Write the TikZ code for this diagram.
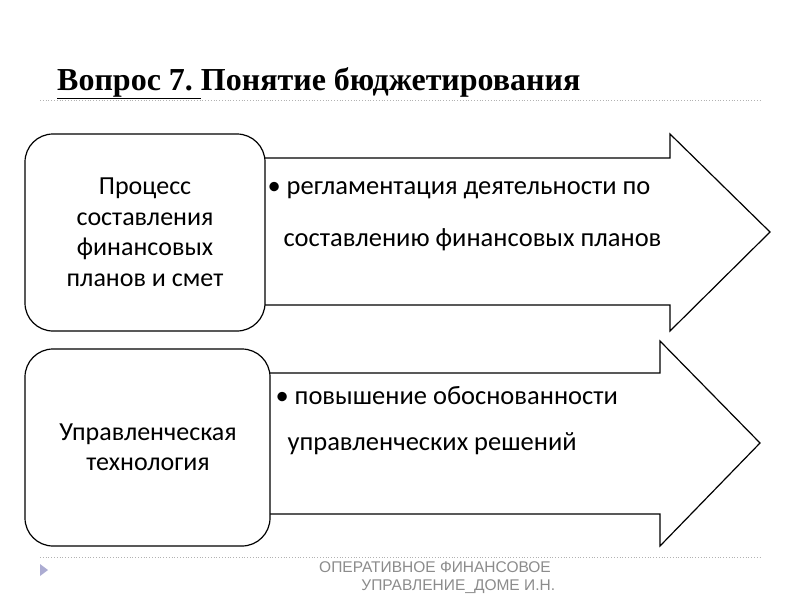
\documentclass[tikz,border=0pt]{standalone}
\usepackage{fontspec}
\setmainfont{Carlito}
\newfontfamily\serifru{Liberation Serif}
\newfontfamily\footfont{Liberation Sans}
\begin{document}
\begin{tikzpicture}[x=1pt,y=-1pt,
  boxst/.style={draw=black,line width=1.2pt,rounded corners=28pt},
  arrowst/.style={draw=black,line width=1.2pt,fill=white,line join=miter},
  boxtext/.style={font=\fontsize{26}{30.5}\selectfont,align=center},
  bul/.style={font=\fontsize{26.5}{30}\selectfont,anchor=west}]
\useasboundingbox (0,0) rectangle (800,600);
\fill[white] (0,0) rectangle (800,600);
% title
\node[anchor=base west,inner sep=0,font=\serifru\bfseries\fontsize{32}{36}\selectfont] (title) at (57,90) {\underline{Вопрос 7.\ }Понятие бюджетирования};
\draw[gray!60,dotted,line width=0.8pt] (40,100) -- (760,100);
\draw[gray!60,dotted,line width=0.8pt] (40,557) -- (760,557);
\fill[gray!70!blue!50] (40,564) -- (48,570) -- (40,576) -- cycle;
\node[font=\footfont\fontsize{15.5}{18}\selectfont,text=gray!90,align=center,anchor=north] (foot) at (435,558) {ОПЕРАТИВНОЕ ФИНАНСОВОЕ\\\hspace*{3em}УПРАВЛЕНИЕ\_ДОМЕ И.Н.};
% arrow 1
\draw[arrowst] (258,158) -- (670,158) -- (670,134) -- (770,232) -- (670,331) -- (670,305) -- (258,305);
\draw[boxst,fill=white] (25,134) rectangle (265,331);
\node[boxtext] (b1) at (145,232) {Процесс\\составления\\финансовых\\планов и смет};
\node[bul] (t1) at (264,190) {• регламентация деятельности по};
\node[bul] (t1b) at (280,240) {составлению финансовых планов};
% arrow 2
\draw[arrowst] (262,373) -- (660,373) -- (660,341) -- (760,443) -- (660,546) -- (660,514) -- (262,514);
\draw[boxst,fill=white] (25,349) rectangle (270,546);
\node[boxtext] (b2) at (148,447) {Управленческая\\технология};
\node[bul] (t2) at (272,396) {• повышение обоснованности};
\node[bul] (t2b) at (284,444) {управленческих решений};
\end{tikzpicture}
\end{document}
